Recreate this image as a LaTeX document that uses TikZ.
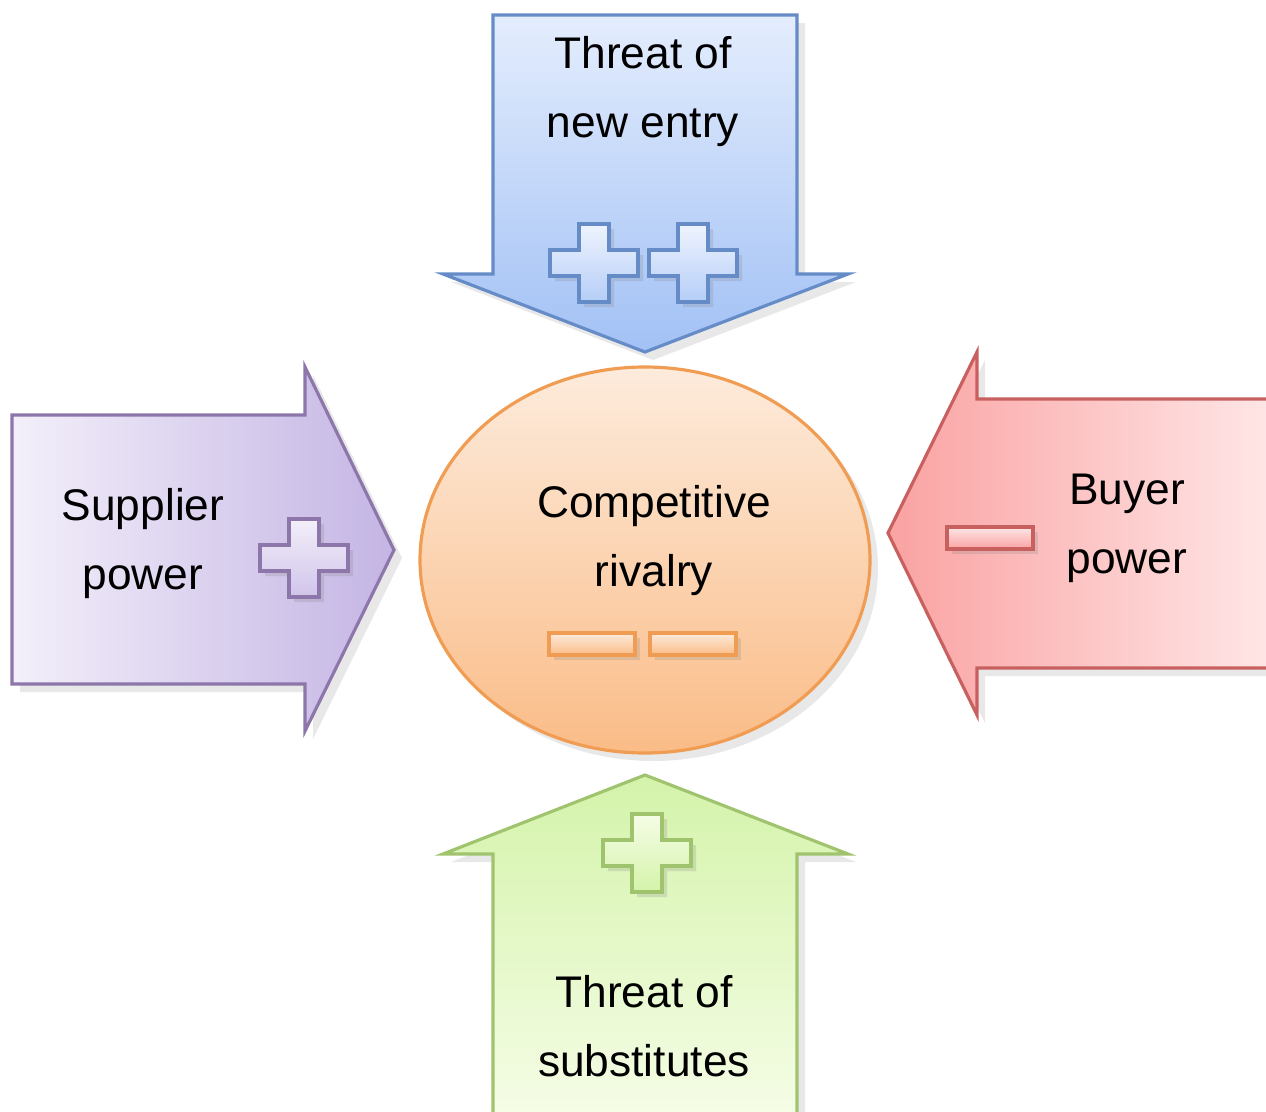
\documentclass[tikz,border=0pt]{standalone}
\usepackage{fontspec}
\setmainfont{Liberation Sans}
\usetikzlibrary{shadows}

% colours of the five forces
\definecolor{entrytop}{RGB}{228,237,253}
\definecolor{entrybot}{RGB}{162,193,245}
\definecolor{entryline}{RGB}{102,140,200}
\definecolor{supleft}{RGB}{243,239,250}
\definecolor{supright}{RGB}{196,181,228}
\definecolor{supline}{RGB}{140,118,170}
\definecolor{buyleft}{RGB}{250,162,162}
\definecolor{buyright}{RGB}{255,230,230}
\definecolor{buyline}{RGB}{200,96,96}
\definecolor{subtop}{RGB}{212,243,170}
\definecolor{subbot}{RGB}{245,253,230}
\definecolor{subline}{RGB}{160,196,110}
\definecolor{rivtop}{RGB}{253,235,220}
\definecolor{rivbot}{RGB}{250,188,135}
\definecolor{rivline}{RGB}{240,156,82}

% plus and minus marks, centred at (#1,#2)
\newcommand{\plusmark}[3]{%
  \draw[mark style,#3,shift={(#1,#2)}]
    (-44,-13) -- (-15,-13) -- (-15,-39) -- (15,-39) -- (15,-13) -- (44,-13)
    -- (44,13) -- (15,13) -- (15,39) -- (-15,39) -- (-15,13) -- (-44,13) -- cycle;}
\newcommand{\minusmark}[3]{%
  \draw[mark style,#3,shift={(#1,#2)}] (-43,-11) rectangle (43,11);}

\begin{document}
\begin{tikzpicture}[
    x=0.01cm, y=-0.01cm,
    force/.style={line width=0.9pt,drop shadow={shadow xshift=0.8mm,shadow yshift=-0.8mm,opacity=0.18}},
    mark style/.style={line width=1.3pt,drop shadow={shadow xshift=0.5mm,shadow yshift=-0.5mm,opacity=0.22}},
    label/.style={align=center,font=\fontsize{12.6}{19.6}\selectfont,text=black}
]
\useasboundingbox (0,0) rectangle (1266,1112);

% threat of new entry (down)
\draw[force,draw=entryline,top color=entrytop,bottom color=entrybot]
  (493,15) -- (797,15) -- (797,274) -- (848,274) -- (645,352)
  -- (443,274) -- (493,274) -- cycle;
% supplier power (right)
\draw[force,draw=supline,left color=supleft,right color=supright]
  (12,415) -- (305,415) -- (305,367) -- (394,550) -- (305,731)
  -- (305,684) -- (12,684) -- cycle;
% buyer power (left)
\draw[force,draw=buyline,left color=buyleft,right color=buyright]
  (1270,399) -- (977,399) -- (977,352) -- (888,533) -- (977,715)
  -- (977,668) -- (1270,668) -- cycle;
% threat of substitutes (up)
\draw[force,draw=subline,top color=subtop,bottom color=subbot]
  (493,1116) -- (493,854) -- (443,854) -- (645,775) -- (848,854)
  -- (797,854) -- (797,1116) -- cycle;
% competitive rivalry
\draw[force,draw=rivline,top color=rivtop,bottom color=rivbot]
  (645,560) ellipse [x radius=225,y radius=193];

% marks
\plusmark{594}{263}{draw=entryline,top color=entrytop!60!white,bottom color=entrybot!80!white}
\plusmark{693}{263}{draw=entryline,top color=entrytop!60!white,bottom color=entrybot!80!white}
\plusmark{304}{558}{draw=supline,top color=supleft,bottom color=supright!80!white}
\plusmark{647}{853}{draw=subline,top color=subbot,bottom color=subtop}
\minusmark{990}{538}{draw=buyline,top color=buyright,bottom color=buyleft}
\minusmark{592}{644}{draw=rivline,top color=rivtop,bottom color=rivbot}
\minusmark{693}{644}{draw=rivline,top color=rivtop,bottom color=rivbot}

% labels
\node[label] (entry) at (643,92) {Threat of\\new entry};
\node[label] (supplier) at (143,544) {Supplier\\power};
\node[label] (buyer) at (1127,528) {Buyer\\power};
\node[label] (rivalry) at (654,541) {Competitive\\rivalry};
\node[label] (subst) at (644,1026) {Threat of\\substitutes};
\end{tikzpicture}
\end{document}
